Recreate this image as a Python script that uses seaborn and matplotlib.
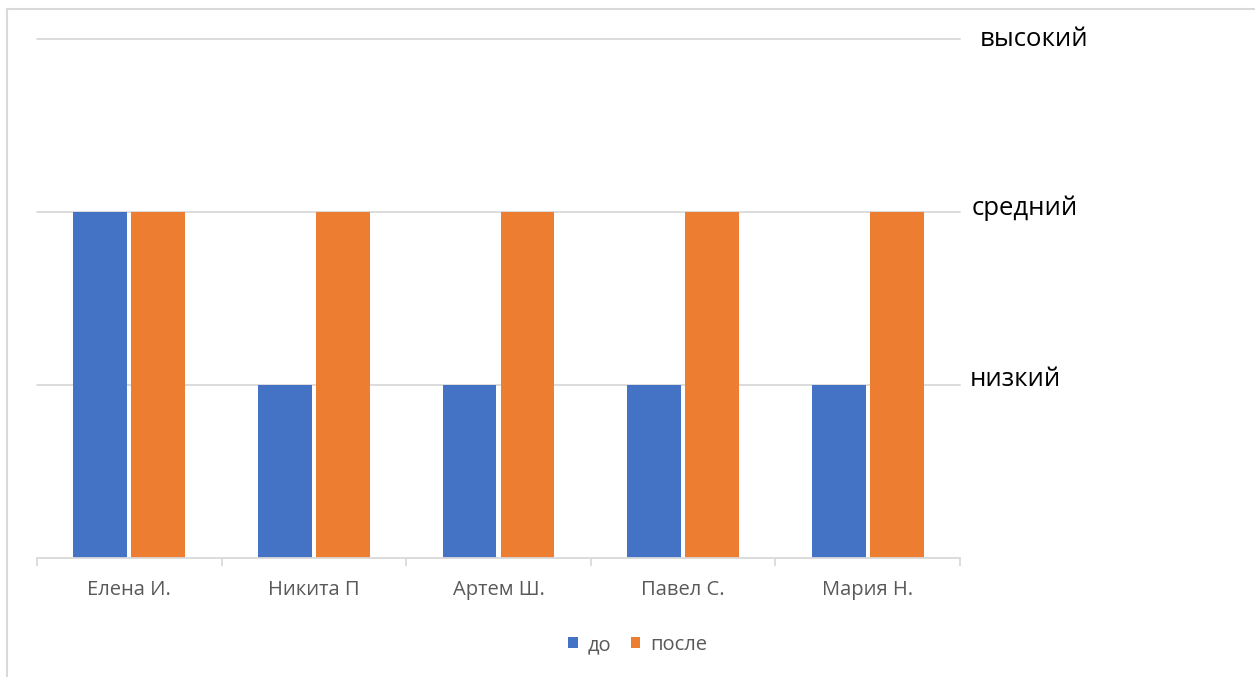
import matplotlib
matplotlib.use("Agg")
import matplotlib.pyplot as plt
import seaborn as sns
import pandas as pd
from matplotlib.lines import Line2D
from matplotlib.patches import Patch

names = ["Елена И.", "Никита П", "Артем Ш.", "Павел С.", "Мария Н."]
before = [2, 1, 1, 1, 1]
after = [2, 2, 2, 2, 2]
series = ["до", "после"]
level_values = [1, 2, 3]
level_labels = ["низкий", "средний", "высокий"]
colors = ["#4472C4", "#ED7D31"]

df = pd.DataFrame({
    "name": names * 2,
    "value": before + after,
    "series": [series[0]] * len(names) + [series[1]] * len(names),
})

sns.set_theme(style="white")
plt.rcParams["font.family"] = ["Open Sans", "DejaVu Sans"]

W, H = 1255, 677
fig = plt.figure(figsize=(W / 100, H / 100), dpi=100)
ax = fig.add_axes([37 / W, (H - 558) / H, (960 - 37) / W, (558 - 39) / H])

sns.barplot(data=df, x="name", y="value", hue="series", hue_order=series,
            order=names, palette=colors, width=0.628, gap=0.07,
            linewidth=0, saturation=1, ax=ax, legend=False)

ax.set_ylim(0, 3)
ax.set_xlim(-0.5, len(names) - 0.5)
ax.set_xlabel("")
ax.set_ylabel("")
ax.set_axisbelow(True)
ax.set_yticks(level_values)
ax.yaxis.grid(True, color="#D9D9D9", linewidth=1.3)
for gl in ax.get_ygridlines():
    gl.set_clip_on(False)
ax.tick_params(axis="y", left=False, right=False, labelleft=False, labelright=False)

for s in ["top", "right", "left"]:
    ax.spines[s].set_visible(False)
ax.spines["bottom"].set_color("#D9D9D9")
ax.spines["bottom"].set_linewidth(1.3)

ax.set_xticks(range(len(names)))
ax.set_xticklabels(names, color="#595959", fontsize=14.5)
ax.tick_params(axis="x", which="major", length=0, pad=16)
ax.set_xticks([i - 0.5 for i in range(len(names) + 1)], minor=True)
ax.tick_params(axis="x", which="minor", length=6, width=1.3, color="#D9D9D9",
               direction="out", bottom=True)

offsets = [(10, 5), (12, 4), (20, 0)]
for v, lab, (dx, dy) in zip(level_values, level_labels, offsets):
    ax.annotate(lab, xy=(1.0, v), xycoords=("axes fraction", "data"),
                xytext=(dx, dy), textcoords="offset pixels",
                ha="left", va="center", fontsize=18.5, color="black",
                annotation_clip=False)

handles = [Patch(facecolor=c, edgecolor="none") for c in colors]
fig.legend(handles, series, loc="center", bbox_to_anchor=(638 / W, (H - 645) / H),
           ncol=2, frameon=False, fontsize=14.5, handlelength=0.45, handleheight=0.45,
           handletextpad=0.5, columnspacing=1.0, labelcolor="#595959")

fig.add_artist(Line2D([7 / W, 1.0], [(H - 9) / H, (H - 9) / H], color="#D9D9D9",
                      linewidth=1.5, transform=fig.transFigure))
fig.add_artist(Line2D([7 / W, 7 / W], [0, (H - 9) / H], color="#D9D9D9",
                      linewidth=1.5, transform=fig.transFigure))

fig.savefig("out.png", dpi=100, facecolor="white")
